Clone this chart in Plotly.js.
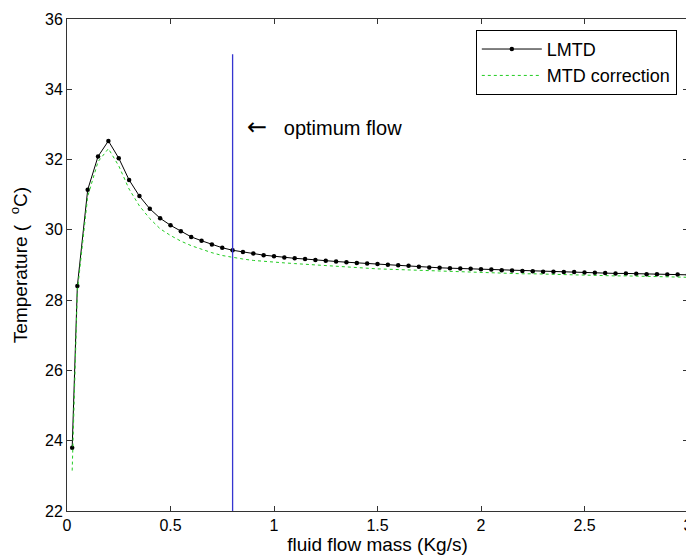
<!DOCTYPE html>
<html>
<head>
<meta charset="utf-8">
<script src="https://cdn.plot.ly/plotly-3.0.1.min.js"></script>
<style>
html, body { margin: 0; padding: 0; overflow: hidden; background: #fff; }
#chart { width: 690px; height: 557px; }
</style>
</head>
<body>
<div id="chart"></div>
<script>
// flow mass (Kg/s)
const flowMass = [0.025, 0.05, 0.1, 0.15, 0.2, 0.25, 0.3, 0.35, 0.4, 0.45, 0.5,
  0.55, 0.6, 0.65, 0.7, 0.75, 0.8, 0.85, 0.9, 0.95, 1.0,
  1.05, 1.1, 1.15, 1.2, 1.25, 1.3, 1.35, 1.4, 1.45, 1.5,
  1.55, 1.6, 1.65, 1.7, 1.75, 1.8, 1.85, 1.9, 1.95, 2.0,
  2.05, 2.1, 2.15, 2.2, 2.25, 2.3, 2.35, 2.4, 2.45, 2.5,
  2.55, 2.6, 2.65, 2.7, 2.75, 2.8, 2.85, 2.9, 2.95, 3.0];

// LMTD temperature (°C)
const lmtd = [23.80, 28.40, 31.14, 32.09, 32.53, 32.04, 31.42, 30.96, 30.60, 30.33, 30.13,
  29.96, 29.80, 29.69, 29.58, 29.49, 29.42, 29.37, 29.33, 29.28, 29.25,
  29.21, 29.19, 29.17, 29.14, 29.12, 29.10, 29.08, 29.06, 29.04, 29.03,
  29.01, 28.99, 28.98, 28.95, 28.93, 28.92, 28.91, 28.90, 28.89, 28.88,
  28.87, 28.85, 28.84, 28.83, 28.82, 28.81, 28.81, 28.80, 28.80, 28.79,
  28.78, 28.77, 28.76, 28.76, 28.75, 28.74, 28.74, 28.73, 28.73, 28.72];

// MTD correction temperature (°C)
const mtdCorrection = [23.15, 28.25, 30.95, 31.94, 32.31, 31.82, 31.16, 30.68, 30.32, 30.03, 29.84,
  29.68, 29.55, 29.44, 29.35, 29.27, 29.21, 29.17, 29.13, 29.10, 29.08,
  29.06, 29.04, 29.02, 29.00, 28.98, 28.96, 28.94, 28.93, 28.91, 28.89,
  28.88, 28.87, 28.86, 28.85, 28.84, 28.82, 28.81, 28.79, 28.78, 28.77,
  28.77, 28.76, 28.76, 28.75, 28.75, 28.74, 28.73, 28.72, 28.72, 28.71,
  28.70, 28.70, 28.69, 28.69, 28.68, 28.67, 28.67, 28.66, 28.66, 28.65];

// optimum flow marker line
const optimumX = [0.8, 0.8];
const optimumY = [22, 35];

const xTickVals = [0, 0.5, 1, 1.5, 2, 2.5, 3];
const xTickText = ['0', '0.5', '1', '1.5', '2', '2.5', '3'];
const yTickVals = [22, 24, 26, 28, 30, 32, 34, 36];
const yTickText = ['22', '24', '26', '28', '30', '32', '34', '36'];

const FONT = 'Liberation Sans, Arial, sans-serif';

const traces = [
  {
    x: flowMass, y: lmtd, type: 'scatter', mode: 'lines+markers', name: 'LMTD',
    line: {color: '#000000', width: 1},
    marker: {color: '#000000', size: 4.5, symbol: 'circle'}
  },
  {
    x: flowMass, y: mtdCorrection, type: 'scatter', mode: 'lines', name: 'MTD correction',
    line: {color: '#22cc22', width: 1, dash: 'dot'}
  },
  {
    x: optimumX, y: optimumY, type: 'scatter', mode: 'lines', showlegend: false,
    line: {color: '#3535d0', width: 1.3}, hoverinfo: 'skip'
  }
];

const layout = {
  width: 690, height: 557,
  margin: {l: 67, r: 2, t: 19, b: 46},
  paper_bgcolor: '#ffffff', plot_bgcolor: '#ffffff',
  font: {family: FONT, size: 16, color: '#000000'},
  showlegend: true,
  legend: {
    x: 0.982, y: 0.978, xanchor: 'right', yanchor: 'top',
    bgcolor: '#ffffff', bordercolor: '#000000', borderwidth: 1,
    font: {family: FONT, size: 18, color: '#000000'},
    tracegroupgap: 0, itemwidth: 60
  },
  xaxis: {
    range: [0, 3], tickvals: xTickVals, ticktext: xTickText,
    showgrid: false, zeroline: false,
    showline: true, linecolor: '#333333', linewidth: 1, mirror: 'ticks',
    ticks: 'inside', ticklen: 5, tickcolor: '#333333',
    ticklabeloverflow: 'allow',
    tickfont: {family: FONT, size: 16, color: '#000000'},
    title: {text: 'fluid flow mass (Kg/s)', font: {family: FONT, size: 19, color: '#000000'}, standoff: 1}
  },
  yaxis: {
    range: [22, 36], tickvals: yTickVals, ticktext: yTickText,
    showgrid: false, zeroline: false,
    showline: true, linecolor: '#333333', linewidth: 1, mirror: 'ticks',
    ticks: 'inside', ticklen: 5, tickcolor: '#333333',
    tickfont: {family: FONT, size: 16, color: '#000000'},
    title: {text: 'Temperature (  <sup>o</sup>C)', font: {family: FONT, size: 19, color: '#000000'}, standoff: 12}
  },
  annotations: [
    {
      x: 0.86, y: 32.92, xref: 'x', yref: 'y', xanchor: 'left', yanchor: 'middle',
      text: '<span style="font-family:DejaVu Sans;font-size:24px">\u2190</span>   optimum flow', showarrow: false,
      font: {family: FONT, size: 20, color: '#000000'}
    }
  ]
};

Plotly.newPlot('chart', traces, layout, {displayModeBar: false, staticPlot: true});
</script>
</body>
</html>
